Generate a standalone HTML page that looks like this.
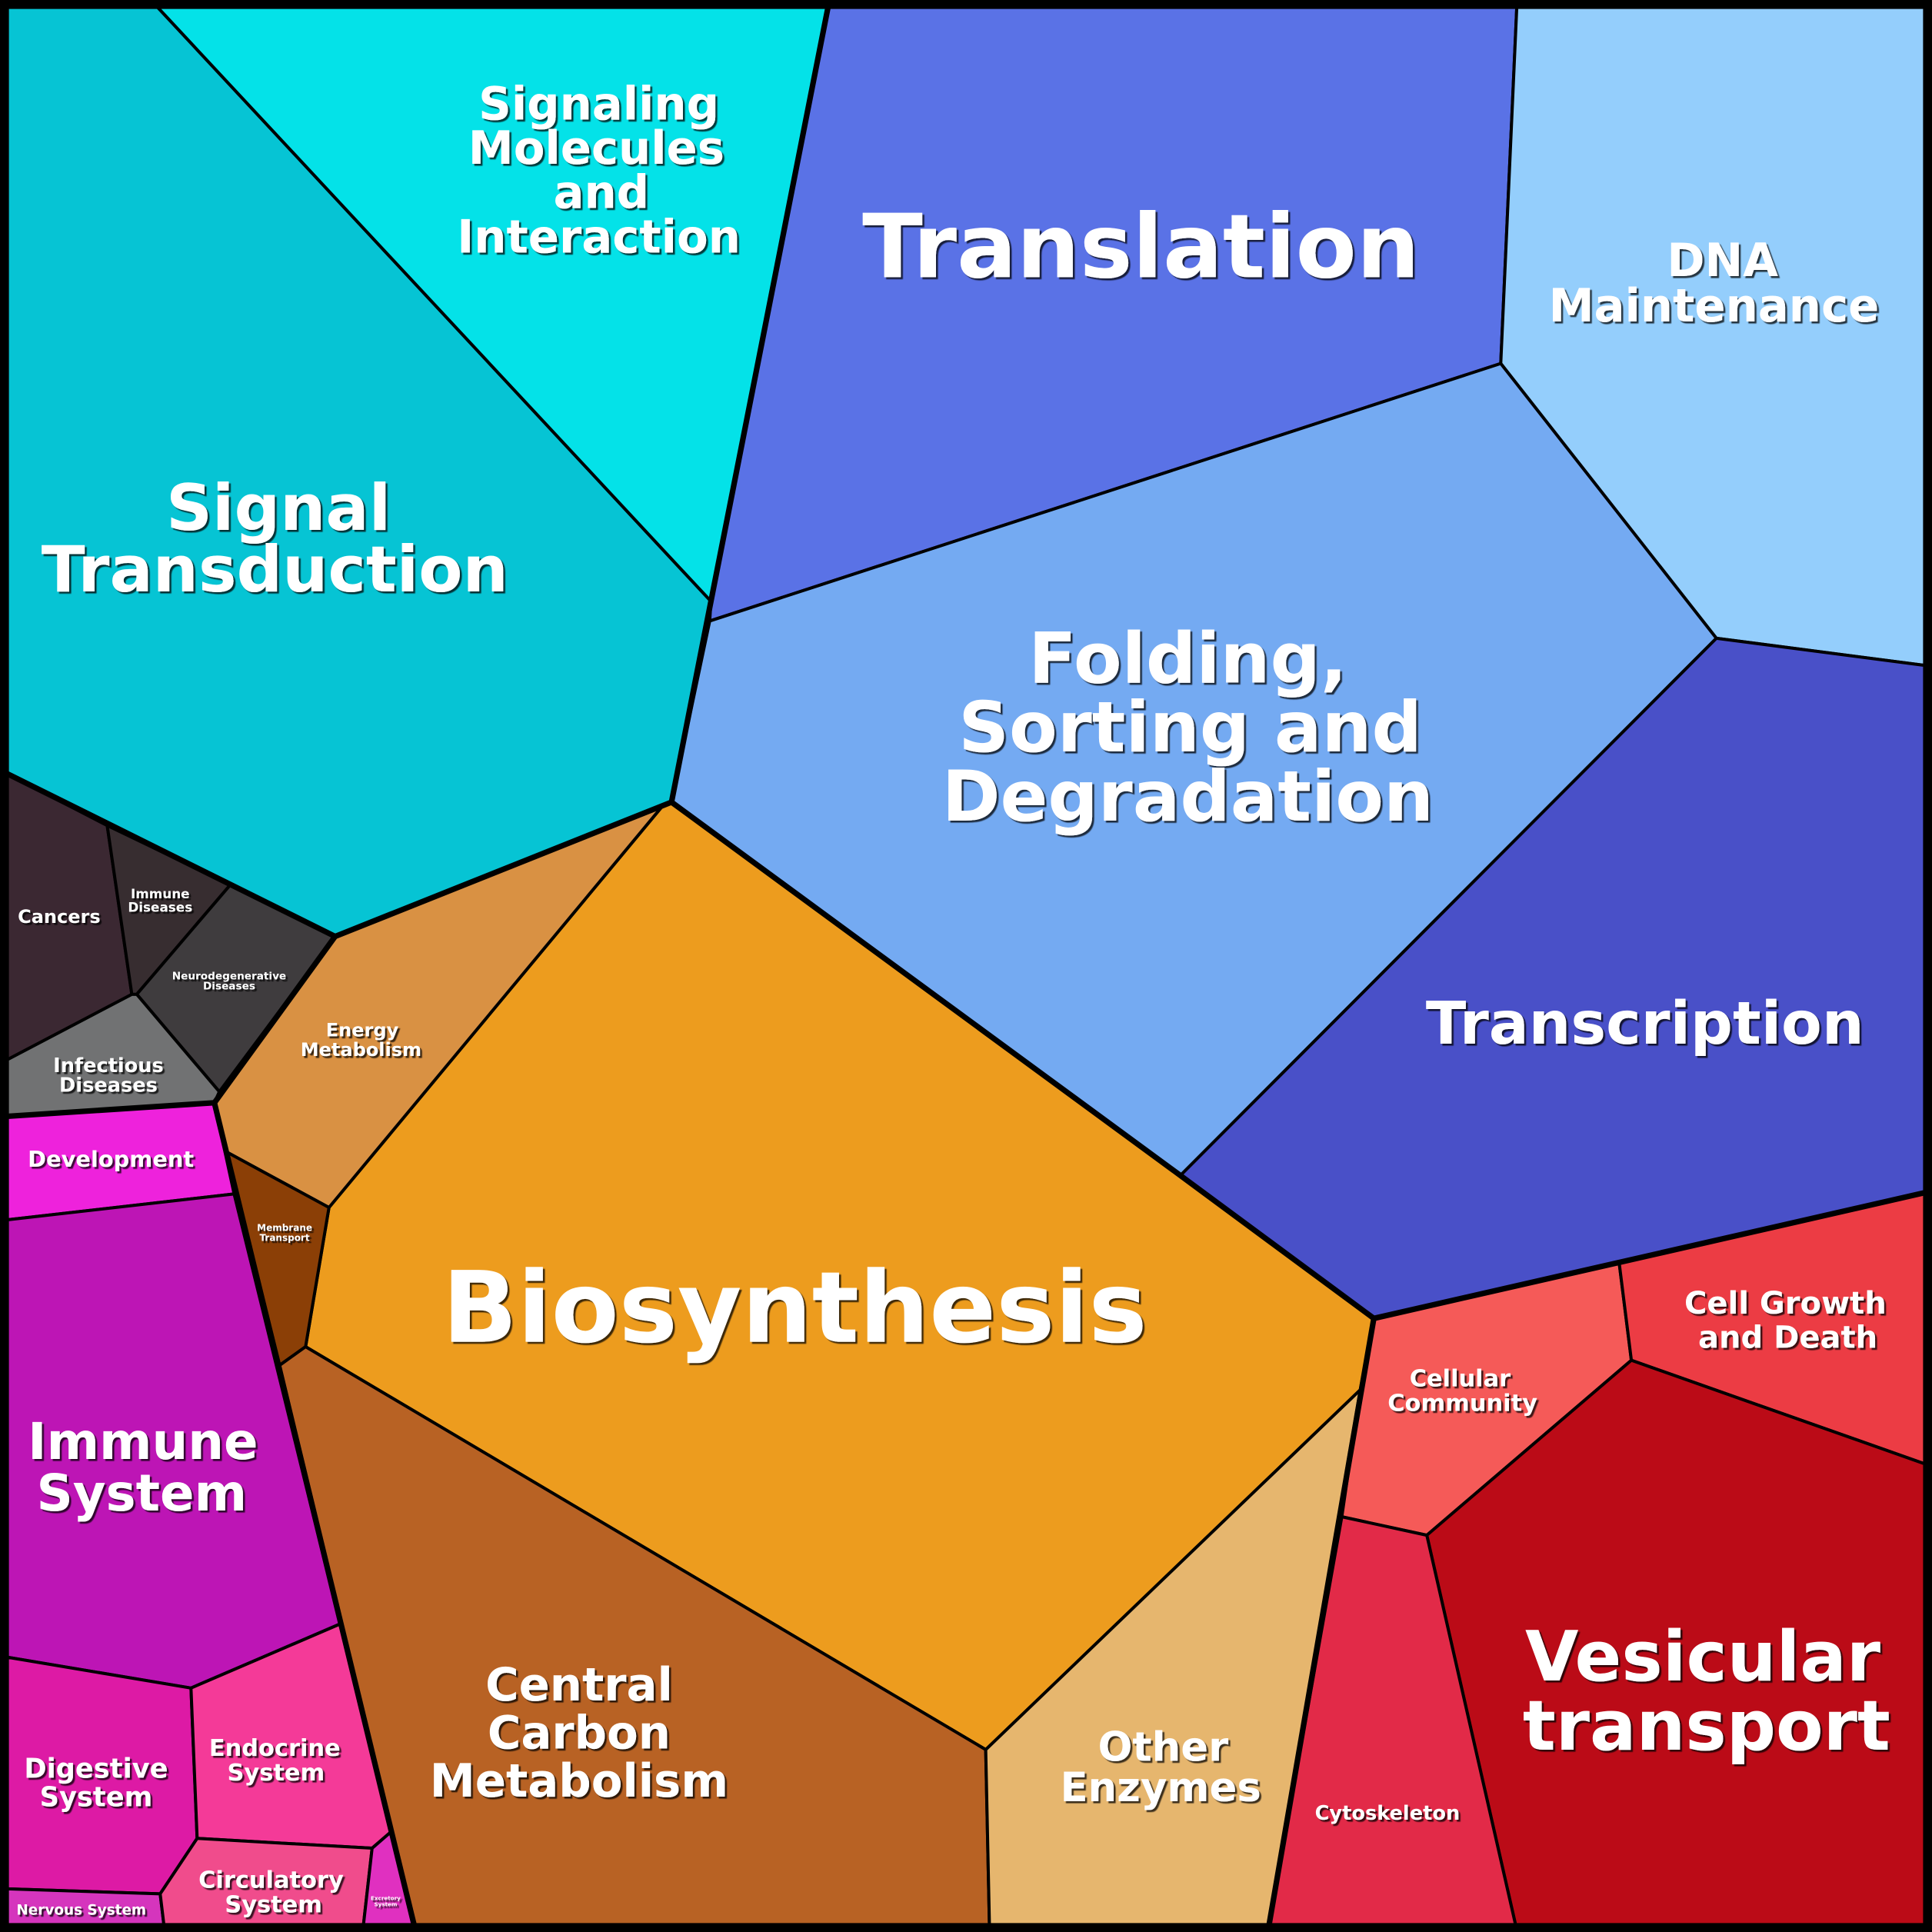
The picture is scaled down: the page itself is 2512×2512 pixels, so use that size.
<!DOCTYPE html>
<html><head><meta charset="utf-8"><style>html,body{margin:0;padding:0;background:#000}svg{display:block}</style></head>
<body>
<svg width="2512" height="2512" viewBox="0 0 1568 1568" xmlns="http://www.w3.org/2000/svg">
<defs><filter id="s" x="-10%" y="-10%" width="120%" height="120%"><feDropShadow dx="1.6" dy="1.6" stdDeviation="0.3" flood-color="#000" flood-opacity="0.75"/></filter></defs>
<rect width="1568" height="1568" fill="#000"/>
<g stroke="#000" stroke-width="2.5" stroke-linejoin="round">
<polygon fill="#06c4d4" points="6,6 128,6 577,488 545,651 272,760 6,628"/>
<polygon fill="#04e2e8" points="128,6 672,6 577,488"/>
<polygon fill="#5a72e6" points="672,6 1231,6 1218,295 576,504 577,488"/>
<polygon fill="#94cefc" points="1231,6 1562,6 1562,540 1393,518 1218,295"/>
<polygon fill="#74aaf2" points="576,504 1218,295 1393,518 958,954 545,651"/>
<polygon fill="#4950c8" points="1393,518 1562,540 1562,968 1115,1070 958,954"/>
<polygon fill="#ed9c1e" points="545,651 958,954 1115,1070 1104,1128 800,1420 248,1093 267,980 537,655"/>
<polygon fill="#d99143" points="272,760 545,651 537,655 267,980 184,935 174,895"/>
<polygon fill="#8b3f06" points="184,935 267,980 248,1093 227,1108"/>
<polygon fill="#3b2832" points="6,628 87,670 107,807 6,860"/>
<polygon fill="#372d30" points="87,670 187,718 111,807 107,807"/>
<polygon fill="#3f3c3e" points="187,718 272,760 178,886 111,807"/>
<polygon fill="#717273" points="6,860 107,807 111,807 178,886 174,895 6,906"/>
<polygon fill="#ee22dc" points="6,906 174,895 190,969 6,990"/>
<polygon fill="#bd15b5" points="6,990 190,969 276,1318 155,1370 6,1345"/>
<polygon fill="#dd1aa5" points="6,1345 155,1370 160,1492 130,1537 6,1533"/>
<polygon fill="#d535bd" points="6,1533 130,1537 133,1562 6,1562"/>
<polygon fill="#f43a98" points="155,1370 276,1318 317,1487 302,1500 160,1492"/>
<polygon fill="#f04c8c" points="160,1492 302,1500 295,1562 133,1562 130,1537"/>
<polygon fill="#e030c0" points="302,1500 317,1487 336,1562 295,1562"/>
<polygon fill="#b86224" points="227,1108 248,1093 800,1420 803,1562 336,1562"/>
<polygon fill="#e6b66e" points="800,1420 1104,1128 1030,1562 803,1562"/>
<polygon fill="#f55a58" points="1115,1070 1314,1024 1324,1104 1158,1246 1089,1231 1104,1128"/>
<polygon fill="#ec3c44" points="1314,1024 1562,968 1562,1188 1324,1104"/>
<polygon fill="#bb0b17" points="1324,1104 1562,1188 1562,1562 1230,1562 1158,1246"/>
<polygon fill="#e22a48" points="1089,1231 1158,1246 1230,1562 1030,1562"/>
</g>
<g stroke="#000" stroke-width="4.5" fill="none" stroke-linejoin="round">
<polyline points="6,628 272,760 545,651 958,954 1115,1070 1562,968"/>
<polyline points="272,760 174,895 6,906"/>
<polyline points="174,895 336,1562"/>
<polyline points="1115,1070 1030,1562"/>
<polyline points="545,651 577,488 672,6"/>
</g>
<rect x="3" y="3" width="1562" height="1562" fill="none" stroke="#000" stroke-width="7"/>
<g fill="#fff" font-family="'DejaVu Sans','Liberation Sans',sans-serif" font-weight="bold" text-anchor="middle" filter="url(#s)">
<text x="926" y="225" font-size="72">Translation</text>
<text x="645" y="1089" font-size="80">Biosynthesis</text>
<text font-size="52"><tspan x="226" y="430">Signal</tspan><tspan x="223" y="480">Transduction</tspan></text>
<text font-size="37"><tspan x="486" y="97">Signaling</tspan><tspan x="484" y="133">Molecules</tspan><tspan x="488" y="169">and</tspan><tspan x="486" y="205">Interaction</tspan></text>
<text font-size="37"><tspan x="1398" y="224">DNA</tspan><tspan x="1391" y="261">Maintenance</tspan></text>
<text font-size="57"><tspan x="964" y="554">Folding,</tspan><tspan x="966" y="610">Sorting and</tspan><tspan x="964" y="666">Degradation</tspan></text>
<text x="1335" y="847" font-size="48">Transcription</text>
<text font-size="56"><tspan x="1382" y="1364">Vesicular</tspan><tspan x="1385" y="1420">transport</tspan></text>
<text font-size="37"><tspan x="470" y="1380">Central</tspan><tspan x="470" y="1419">Carbon</tspan><tspan x="470" y="1458">Metabolism</tspan></text>
<text font-size="41"><tspan x="116" y="1184">Immune</tspan><tspan x="115" y="1226">System</tspan></text>
<text font-size="33"><tspan x="944" y="1429">Other</tspan><tspan x="942" y="1462">Enzymes</tspan></text>
<text font-size="25"><tspan x="1449" y="1066">Cell Growth</tspan><tspan x="1451" y="1094">and Death</tspan></text>
<text font-size="19"><tspan x="1185" y="1125">Cellular</tspan><tspan x="1187" y="1145">Community</tspan></text>
<text font-size="22"><tspan x="78" y="1443">Digestive</tspan><tspan x="78" y="1466">System</tspan></text>
<text font-size="19"><tspan x="223" y="1425">Endocrine</tspan><tspan x="224" y="1445">System</tspan></text>
<text font-size="19"><tspan x="220" y="1532">Circulatory</tspan><tspan x="222" y="1552">System</tspan></text>
<text x="1126" y="1477" font-size="16">Cytoskeleton</text>
<text x="66" y="1554" font-size="11.5">Nervous System</text>
<text font-size="4.5"><tspan x="313" y="1542">Excretory</tspan><tspan x="313" y="1547">System</tspan></text>
<text font-size="15"><tspan x="294" y="841">Energy</tspan><tspan x="293" y="857">Metabolism</tspan></text>
<text x="90" y="947" font-size="18">Development</text>
<text font-size="16"><tspan x="88" y="870">Infectious</tspan><tspan x="88" y="886">Diseases</tspan></text>
<text x="48" y="749" font-size="15">Cancers</text>
<text font-size="10.5"><tspan x="130" y="729">Immune</tspan><tspan x="130" y="740">Diseases</tspan></text>
<text font-size="8.5"><tspan x="186" y="795">Neurodegenerative</tspan><tspan x="186" y="803">Diseases</tspan></text>
<text font-size="7.5"><tspan x="231" y="999">Membrane</tspan><tspan x="231" y="1007">Transport</tspan></text>
</g>
</svg>
</body></html>
